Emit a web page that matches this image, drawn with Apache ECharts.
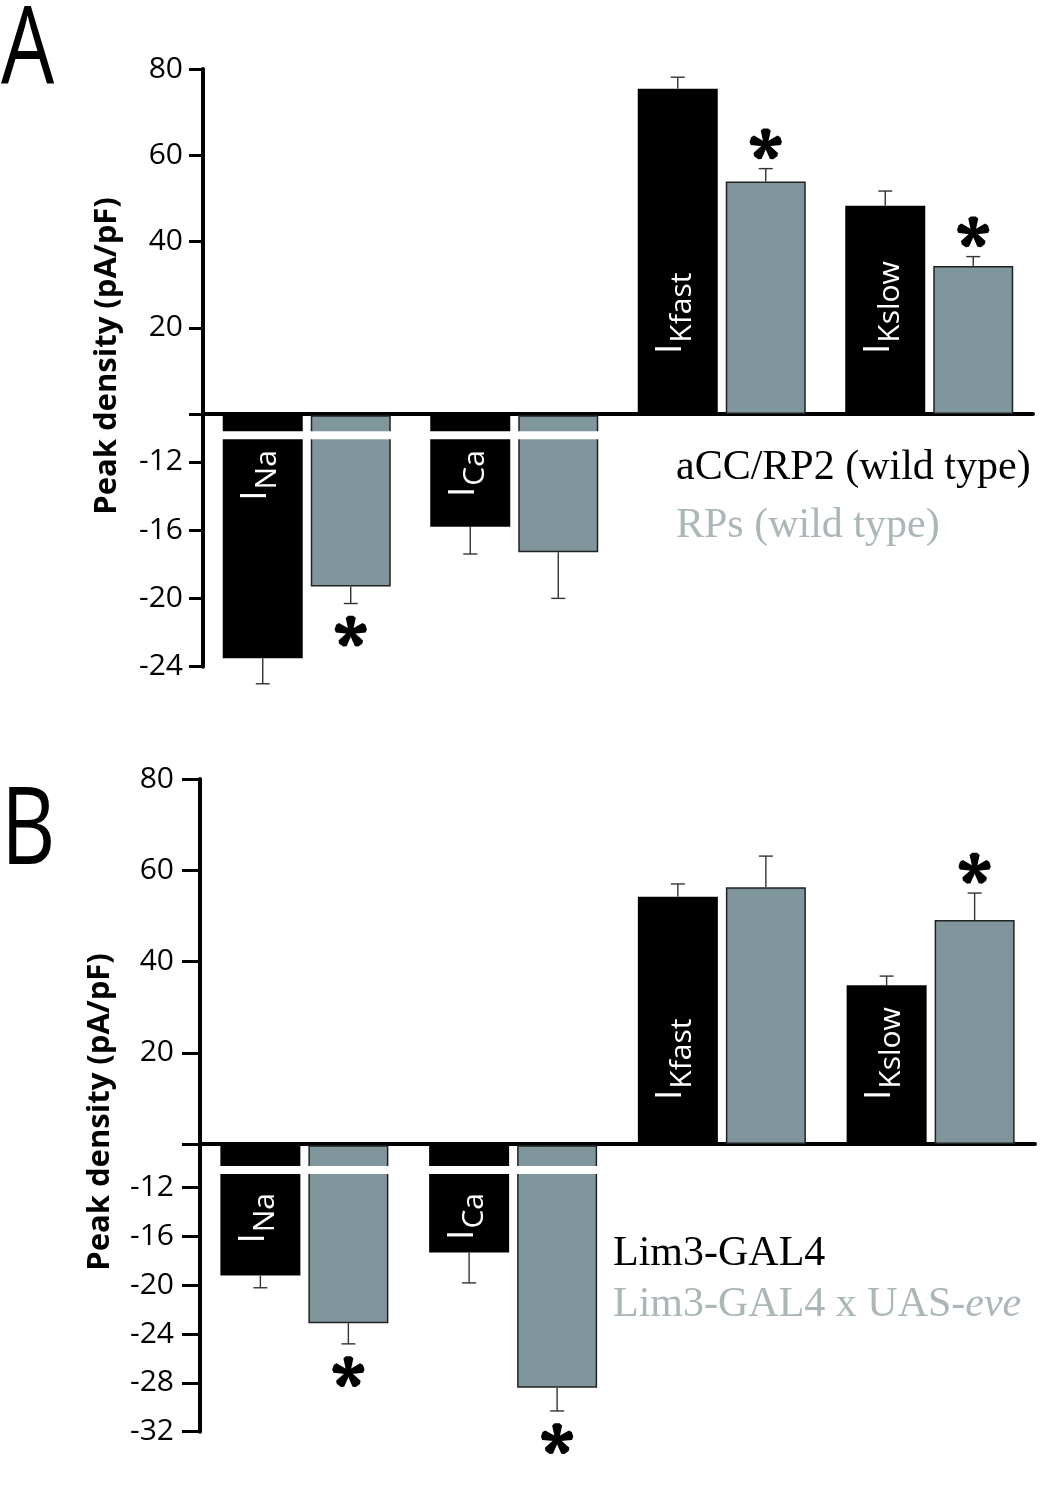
<!DOCTYPE html>
<html><head><meta charset="utf-8">
<script src="https://cdn.jsdelivr.net/npm/echarts@6/dist/echarts.min.js"></script>
<style>html,body{margin:0;padding:0;background:#fff}#c{width:1043px;height:1488px}</style>
</head><body><div id="c"></div>
<script>
// ---------- data ----------
const categories = ['INa', 'ICa', 'IKfast', 'IKslow'];
const labelMain = ['I', 'I', 'I', 'I'];
const labelSub = ['Na', 'Ca', 'Kfast', 'Kslow'];
const posTicks = [0, 20, 40, 60, 80];
const posLabels = [20, 40, 60, 80];
const negTicksA = [-24, -20, -16, -12];
const negTicksB = [-32, -28, -24, -20, -16, -12];

// Panel A: aCC/RP2 (black) vs RPs (gray)
const aBlackMean = [-23.5, -15.8, 75.4, 48.3];
const aBlackSem  = [1.5, 1.6, 2.7, 3.4];
const aBlackSig  = [0, 0, 0, 0];
const aGrayMean  = [-19.3, -17.3, 53.9, 34.3];
const aGraySem   = [1.0, 2.7, 3.0, 2.2];
const aGraySig   = [1, 0, 1, 1];

// Panel B: Lim3-GAL4 (black) vs Lim3-GAL4 x UAS-eve (gray)
const bBlackMean = [-19.2, -17.3, 54.2, 34.8];
const bBlackSem  = [1.0, 2.5, 2.8, 2.0];
const bBlackSig  = [0, 0, 0, 0];
const bGrayMean  = [-23.1, -28.4, 56.3, 49.1];
const bGraySem   = [1.7, 1.9, 6.8, 5.9];
const bGraySig   = [1, 1, 0, 1];

const legendA = ['aCC/RP2 (wild type)', 'RPs (wild type)'];
const legendB = ['Lim3-GAL4', 'Lim3-GAL4 x UAS-', 'eve'];
const yTitle = 'Peak density (pA/pF)';

// ---------- style ----------
const FONT = '"Open Sans", "Noto Sans", sans-serif';
const SERIF = '"Liberation Serif", "DejaVu Serif", serif';
const BLACK = '#000000';
const GRAY = '#7f979c';
const LEGEND_GRAY = '#aab6b8';
const BAR_W = 80;
const PITCH = 88;

function starShape(cx, cy) {
  const L = 14, w0 = 2.0, w1 = 5.0;
  const kids = [{ type: 'circle', shape: { cx: cx, cy: cy, r: 4.2 }, style: { fill: '#000' } }];
  for (let k = 0; k < 5; k++) {
    const t = k * 72 * Math.PI / 180;
    const dx = Math.sin(t), dy = -Math.cos(t), px = Math.cos(t), py = Math.sin(t);
    kids.push({ type: 'polygon', shape: { points: [
      [cx + px * w0, cy + py * w0],
      [cx + dx * L + px * w1, cy + dy * L + py * w1],
      [cx + dx * (L + 2.2) + px * w1 * 0.5, cy + dy * (L + 2.2) + py * w1 * 0.5],
      [cx + dx * (L + 2.2) - px * w1 * 0.5, cy + dy * (L + 2.2) - py * w1 * 0.5],
      [cx + dx * L - px * w1, cy + dy * L - py * w1],
      [cx - px * w0, cy - py * w0]
    ] }, style: { fill: '#000' } });
  }
  return kids;
}

function buildItems(bm, bs, bsig, gm, gs, gsig, positive) {
  const out = [];
  for (let i = 0; i < categories.length; i++) {
    if ((bm[i] > 0) === positive) out.push([i, 0, bm[i], bs[i], bsig[i]]);
    if ((gm[i] > 0) === positive) out.push([i, 1, gm[i], gs[i], gsig[i]]);
  }
  return out;
}

function overlay(gridIdx, items, o) {
  return {
    type: 'custom', xAxisIndex: gridIdx, yAxisIndex: gridIdx, z: 5, silent: true,
    dimensions: ['cat', 'ser', 'mean', 'sem', 'sig'],
    encode: { x: 0, y: 2 },
    data: items,
    renderItem: function (params, api) {
      const cat = api.value(0), ser = api.value(1), mean = api.value(2), sem = api.value(3), sig = api.value(4);
      const base = api.coord([cat, 0]);
      const cx = base[0] + (ser === 0 ? -1 : 1) * PITCH / 2;
      const yMean = api.coord([cat, mean])[1];
      const tip = mean < 0 ? mean - sem : mean + sem;
      const yTip = api.coord([cat, tip])[1];
      const kids = [];
      if (mean < 0) {
        const yb = api.coord([cat, o.breakVal])[1];
        kids.push({ type: 'rect', shape: { x: cx - BAR_W / 2 - 2, y: yb - 4, width: BAR_W + 4, height: 8 }, style: { fill: '#fff' } });
      }
      kids.push({ type: 'line', shape: { x1: cx, y1: yMean, x2: cx, y2: yTip }, style: { stroke: '#333', lineWidth: 1.4 } });
      kids.push({ type: 'line', shape: { x1: cx - 7, y1: yTip, x2: cx + 7, y2: yTip }, style: { stroke: '#333', lineWidth: 1.4 } });
      if (sig) starShape(cx, mean < 0 ? yTip + 28.5 : yTip - 24).forEach(function (k) { kids.push(k); });
      if (ser === 0) {
        const text = '{m|' + labelMain[cat] + '}{s|' + labelSub[cat] + '}';
        let y, align;
        if (mean < 0) { y = api.coord([cat, o.breakVal])[1] + o.negOff; align = 'right'; }
        else { y = base[1] - o.posOff; align = 'left'; }
        kids.push({ type: 'text', x: cx - 7, y: y, rotation: Math.PI / 2, style: {
          text: text, align: align, verticalAlign: 'middle', fill: '#fff',
          rich: {
            m: { fontSize: 37, fontFamily: FONT, fill: '#fff' },
            s: { fontSize: 30, padding: [24, 0, 0, 1], fontFamily: FONT, fill: '#fff' }
          } } });
      }
      return { type: 'group', children: kids };
    }
  };
}

function xAx(grid, showLine) {
  return { gridIndex: grid, type: 'category', data: categories,
    axisLine: { show: showLine, lineStyle: { color: '#000', width: 4 } },
    axisTick: { show: false }, axisLabel: { show: false }, splitLine: { show: false } };
}
function yAx(grid, min, max, ticks, labels, margin, tickLen) {
  return { gridIndex: grid, type: 'value', min: min, max: max,
    axisLine: { show: true, onZero: false, lineStyle: { color: '#000', width: 4 } },
    axisTick: { show: true, customValues: ticks, length: tickLen, lineStyle: { color: '#000', width: 3 } },
    axisLabel: { customValues: labels, fontSize: 30, fontFamily: FONT, color: '#000', margin: margin },
    splitLine: { show: false } };
}
function bars(grid, black, gray) {
  return [
    { type: 'bar', xAxisIndex: grid, yAxisIndex: grid, data: black, barWidth: BAR_W, barGap: ((PITCH - BAR_W) / BAR_W * 100) + '%',
      clip: true, itemStyle: { color: BLACK }, z: 2 },
    { type: 'bar', xAxisIndex: grid, yAxisIndex: grid, data: gray, barWidth: BAR_W, barGap: ((PITCH - BAR_W) / BAR_W * 100) + '%',
      clip: true, itemStyle: { color: GRAY, borderColor: '#222', borderWidth: 1.5 }, z: 2 }
  ];
}

const optA = { breakVal: -10.44, negOff: 15, posOff: 60 };
const optB = { breakVal: -10.55, negOff: 23, posOff: 44 };

const option = {
  animation: false,
  backgroundColor: '#fff',
  grid: [
    { left: 203, top: 69, width: 830, height: 345 },
    { left: 203, top: 416, width: 830, height: 250.7 },
    { left: 200, top: 779, width: 835, height: 365 },
    { left: 200, top: 1146, width: 835, height: 285.7 }
  ],
  xAxis: [xAx(0, true), xAx(1, false), xAx(2, true), xAx(3, false)],
  yAxis: [
    yAx(0, 0, 80, posTicks, posLabels, 20, 14),
    yAx(1, -24, -9.32, negTicksA, negTicksA, 20, 14),
    yAx(2, 0, 80, posTicks, posLabels, 26, 18),
    yAx(3, -32, -8.58, negTicksB, negTicksB, 26, 18)
  ],
  series: [].concat(
    bars(0, aBlackMean, aGrayMean),
    bars(1, aBlackMean, aGrayMean),
    bars(2, bBlackMean, bGrayMean),
    bars(3, bBlackMean, bGrayMean),
    [
      overlay(0, buildItems(aBlackMean, aBlackSem, aBlackSig, aGrayMean, aGraySem, aGraySig, true), optA),
      overlay(1, buildItems(aBlackMean, aBlackSem, aBlackSig, aGrayMean, aGraySem, aGraySig, false), optA),
      overlay(2, buildItems(bBlackMean, bBlackSem, bBlackSig, bGrayMean, bGraySem, bGraySig, true), optB),
      overlay(3, buildItems(bBlackMean, bBlackSem, bBlackSig, bGrayMean, bGraySem, bGraySig, false), optB)
    ]
  ),
  graphic: [
    { type: 'text', x: 1, y: 53, scaleX: 0.78, style: { text: 'A', fontSize: 108, fontFamily: FONT, fill: '#000', verticalAlign: 'middle' } },
    { type: 'text', x: 1, y: 833, scaleX: 0.78, style: { text: 'B', fontSize: 108, fontFamily: FONT, fill: '#000', verticalAlign: 'middle' } },
    { type: 'text', x: 107, y: 356, rotation: Math.PI / 2, style: { text: yTitle, fontSize: 31, fontWeight: 'bold', fontFamily: FONT, fill: '#000', align: 'center', verticalAlign: 'middle' } },
    { type: 'text', x: 100, y: 1112, rotation: Math.PI / 2, style: { text: yTitle, fontSize: 31, fontWeight: 'bold', fontFamily: FONT, fill: '#000', align: 'center', verticalAlign: 'middle' } },
    { type: 'text', x: 676, y: 468, style: { text: legendA[0], fontSize: 42, fontFamily: SERIF, fill: '#000', verticalAlign: 'middle' } },
    { type: 'text', x: 676, y: 526, style: { text: legendA[1], fontSize: 42, fontFamily: SERIF, fill: LEGEND_GRAY, verticalAlign: 'middle' } },
    { type: 'text', x: 613, y: 1254, style: { text: legendB[0], fontSize: 42, fontFamily: SERIF, fill: '#000', verticalAlign: 'middle' } },
    { type: 'text', x: 613, y: 1305, style: { text: '{n|' + legendB[1] + '}{i|' + legendB[2] + '}', verticalAlign: 'middle',
      rich: { n: { fontSize: 42, fontFamily: SERIF, fill: LEGEND_GRAY }, i: { fontSize: 42, fontFamily: SERIF, fontStyle: 'italic', fill: LEGEND_GRAY } } } }
  ]
};

const chart = echarts.init(document.getElementById('c'), null, { renderer: 'canvas' });
chart.setOption(option);
</script>
</body></html>
